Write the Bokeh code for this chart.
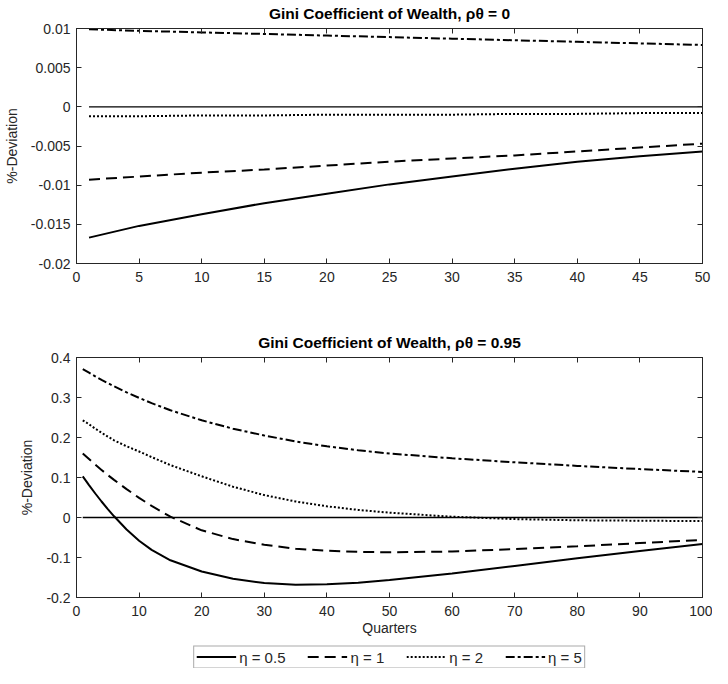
from bokeh.plotting import figure
from bokeh.models import Range1d, FixedTicker, LinearAxis, Legend, LegendItem
from bokeh.layouts import column
from bokeh.embed import file_html
from bokeh.resources import INLINE

# ---------------- data ----------------
q_top = [1, 5, 10, 15, 20, 25, 30, 35, 40, 45, 50]
top_eta05 = [-0.0167, -0.0152, -0.0137, -0.0123, -0.0111, -0.0099, -0.0089, -0.0079, -0.0070, -0.0063, -0.0057]
top_eta1 = [-0.0093, -0.0089, -0.0084, -0.0080, -0.0075, -0.0070, -0.0066, -0.0062, -0.0057, -0.0052, -0.0047]
top_eta2 = [-0.0012, -0.0012, -0.0011, -0.0011, -0.0010, -0.0010, -0.0010, -0.0009, -0.0009, -0.0008, -0.0008]
top_eta5 = [0.0099, 0.0097, 0.0095, 0.0093, 0.0091, 0.0089, 0.0087, 0.0085, 0.0083, 0.0081, 0.0079]

q_bot = [1, 2, 3, 4, 5, 6, 8, 10, 12, 15, 20, 25, 30, 35, 40, 45, 50, 60, 70, 80, 90, 100]
bot_eta05 = [0.103, 0.081, 0.060, 0.040, 0.021, 0.003, -0.030, -0.058, -0.081, -0.107, -0.135, -0.153,
             -0.164, -0.168, -0.167, -0.163, -0.156, -0.140, -0.121, -0.102, -0.084, -0.066]
bot_eta1 = [0.160, 0.146, 0.132, 0.119, 0.106, 0.094, 0.071, 0.049, 0.029, 0.002, -0.032, -0.054,
            -0.068, -0.078, -0.083, -0.086, -0.087, -0.085, -0.079, -0.072, -0.064, -0.056]
bot_eta2 = [0.243, 0.233, 0.222, 0.212, 0.202, 0.193, 0.178, 0.165, 0.151, 0.131, 0.103, 0.077,
            0.056, 0.040, 0.028, 0.019, 0.012, 0.002, -0.004, -0.007, -0.008, -0.009]
bot_eta5 = [0.371, 0.362, 0.353, 0.344, 0.336, 0.328, 0.313, 0.299, 0.286, 0.268, 0.243, 0.222,
            0.205, 0.190, 0.178, 0.168, 0.160, 0.148, 0.138, 0.129, 0.121, 0.114]

series_labels = ["η = 0.5", "η = 1", "η = 2", "η = 5"]

top_xticks = [0, 5, 10, 15, 20, 25, 30, 35, 40, 45, 50]
top_yticks = [-0.02, -0.015, -0.01, -0.005, 0, 0.005, 0.01]
top_ylabels = ["-0.02", "-0.015", "-0.01", "-0.005", "0", "0.005", "0.01"]
bot_xticks = [0, 10, 20, 30, 40, 50, 60, 70, 80, 90, 100]
bot_yticks = [-0.2, -0.1, 0, 0.1, 0.2, 0.3, 0.4]
bot_ylabels = ["-0.2", "-0.1", "0", "0.1", "0.2", "0.3", "0.4"]

top_title = "Gini Coefficient of Wealth, ρθ = 0"
bot_title = "Gini Coefficient of Wealth, ρθ = 0.95"
ylabel = "%-Deviation"
xlabel = "Quarters"

# ---------------- style ----------------
FONT = "Liberation Sans"
AX = "#262626"
DASHES = ["solid", "11 6", "2 2", "9 3 3 3"]
LW = 2


def make_fig(height, xr, yr, xticks, yticks, ylabels, min_top, min_bottom, xlab, title):
    p = figure(width=712, height=height, output_backend="svg", toolbar_location=None,
               x_range=Range1d(*xr), y_range=Range1d(*yr), title=title,
               min_border_left=71, min_border_right=10,
               min_border_top=min_top, min_border_bottom=min_bottom)
    p.title.align = "center"
    p.title.text_font = FONT
    p.title.text_font_size = "15.5px"
    p.title.text_font_style = "bold"
    p.title.text_color = "black"
    p.title.standoff = 4
    p.xgrid.visible = False
    p.ygrid.visible = False
    p.outline_line_color = AX
    top_ax = LinearAxis(ticker=FixedTicker(ticks=xticks),
                        major_label_overrides={t: " " for t in xticks}, major_label_standoff=0)
    right_ax = LinearAxis(ticker=FixedTicker(ticks=yticks),
                          major_label_overrides={t: " " for t in yticks}, major_label_standoff=0)
    p.add_layout(top_ax, "above")
    p.add_layout(right_ax, "right")
    p.below[0].ticker = FixedTicker(ticks=xticks)
    p.left[0].ticker = FixedTicker(ticks=yticks)
    for ax in [p.below[0], p.left[0], top_ax, right_ax]:
        ax.axis_line_color = AX
        ax.major_tick_line_color = AX
        ax.major_tick_in = 5
        ax.major_tick_out = 0
        ax.minor_tick_line_color = None
        ax.major_label_text_font = FONT
        ax.major_label_text_font_size = "14px"
        ax.major_label_text_color = AX
    top_ax.major_label_text_font_size = "2px"
    right_ax.major_label_text_font_size = "2px"
    p.below[0].major_label_standoff = 8
    p.left[0].major_label_standoff = 6
    p.left[0].major_label_overrides = {t: s for t, s in zip(yticks, ylabels)}
    p.left[0].axis_label = ylabel
    p.left[0].axis_label_text_font = FONT
    p.left[0].axis_label_text_font_size = "14px"
    p.left[0].axis_label_text_font_style = "normal"
    p.left[0].axis_label_text_color = AX
    p.left[0].axis_label_standoff = 8
    if xlab:
        p.below[0].axis_label = xlab
        p.below[0].axis_label_text_font = FONT
        p.below[0].axis_label_text_font_size = "14px"
        p.below[0].axis_label_text_font_style = "normal"
        p.below[0].axis_label_text_color = AX
        p.below[0].axis_label_standoff = 1
    return p


def add_lines(p, q, series):
    rends = []
    for ys, dash in zip(series, DASHES):
        r = p.line(q, ys, line_color="black", line_width=LW, line_dash=dash)
        rends.append(r)
    p.line([q[0], q[-1]], [0, 0], line_color="black", line_width=1.3)
    return rends


# top
pt = make_fig(299, (0, 50), (-0.02, 0.01), top_xticks, top_yticks, top_ylabels, 22, 36, None, top_title)
add_lines(pt, q_top, [top_eta05, top_eta1, top_eta2, top_eta5])

# bottom
pb = make_fig(346, (0, 100), (-0.2, 0.4), bot_xticks, bot_yticks, bot_ylabels, 58, 48, xlabel, bot_title)
add_lines(pb, q_bot, [bot_eta05, bot_eta1, bot_eta2, bot_eta5])

# legend strip: the same series drawn on a range that keeps them out of view,
# so that only the legend keys show
pl = figure(width=712, height=23, output_backend="svg", toolbar_location=None,
            x_range=Range1d(-2, -1), y_range=Range1d(0, 1),
            x_axis_location=None, y_axis_location=None,
            min_border_left=71, min_border_right=10, min_border_top=0, min_border_bottom=0)
pl.xgrid.visible = False
pl.ygrid.visible = False
pl.outline_line_color = None
keys = [pl.line(q_bot, ys, line_color="black", line_width=LW, line_dash=d)
        for ys, d in zip([bot_eta05, bot_eta1, bot_eta2, bot_eta5], DASHES)]
legend = Legend(items=[LegendItem(label=l, renderers=[r]) for l, r in zip(series_labels, keys)],
                orientation="horizontal", location="center",
                label_text_font=FONT, label_text_font_size="15px", label_text_color=AX,
                glyph_width=40, glyph_height=16, label_height=16, label_standoff=3, spacing=22,
                padding=2, margin=0, border_line_color="#555555", border_line_width=1)
pl.add_layout(legend)

layout = column(pt, pb, pl)
open("out.html", "w").write(file_html(layout, INLINE))
